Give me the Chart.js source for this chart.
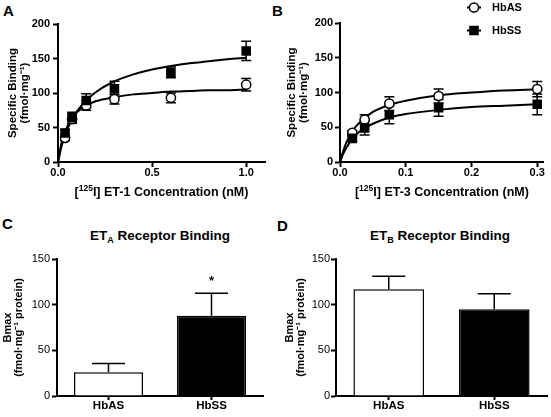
<!DOCTYPE html>
<html>
<head>
<meta charset="utf-8">
<script src="https://cdn.jsdelivr.net/npm/chart.js@4.4.0/dist/chart.umd.min.js"></script>
<style>
  body { margin: 0; background: #fff; width: 551px; height: 417px; position: relative; overflow: hidden;
         font-family: 'Liberation Sans', Arial, sans-serif; color: #000; }
  .panel { position: absolute; }
  .letter { position: absolute; font-weight: bold; font-size: 15px; line-height: 1; }
  .ctitle { position: absolute; font-weight: bold; font-size: 13.5px; line-height: 1; white-space: nowrap; transform: translateX(-50%); }
  .ctitle sub { font-size: 9px; vertical-align: -3px; line-height: 0; }
</style>
</head>
<body>
<div class="letter" style="left:3px; top:3px;">A</div>
<div class="letter" style="left:272px; top:3px;">B</div>
<div class="letter" style="left:2px; top:216px;">C</div>
<div class="letter" style="left:277px; top:218px;">D</div>
<div class="ctitle" style="left:160px; top:229px;">ET<sub>A</sub> Receptor Binding</div>
<div class="ctitle" style="left:440px; top:229px;">ET<sub>B</sub> Receptor Binding</div>

<canvas id="chartA" class="panel" width="275" height="205" style="left:0; top:0;"></canvas>
<canvas id="chartB" class="panel" width="276" height="205" style="left:275px; top:0;"></canvas>
<canvas id="chartC" class="panel" width="275" height="207" style="left:0; top:210px;"></canvas>
<canvas id="chartD" class="panel" width="276" height="207" style="left:275px; top:210px;"></canvas>

<script>
// --- Panel A: [125I] ET-1 saturation binding ---
const et1Conc = [0.0375, 0.075, 0.15, 0.3, 0.6, 1.0];
const et1HbAS = [35, 62, 82, 91, 93, 112];
const et1HbASErr = [4, 6, 7, 7, 7, 9];
const et1HbSS = [42, 64, 89, 106, 130, 161];
const et1HbSSErr = [5, 8, 10, 11, 8, 14];
// fitted one-site curves
const et1FitX = [0, 0.02, 0.05, 0.1, 0.15, 0.2, 0.3, 0.4, 0.5, 0.6, 0.7, 0.8, 0.9, 1.0];
const et1FitHbAS = [0, 29, 52, 72, 82, 88, 94, 98, 100, 102, 103, 104, 104, 105];
const et1FitHbSS = [0, 24, 48, 73, 89, 101, 117, 127, 134, 139, 143, 146, 149, 151];
const et1XTicks = [0, 0.5, 1.0];
const et1YTicks = [0, 50, 100, 150, 200];

// --- Panel B: [125I] ET-3 saturation binding ---
const et3Conc = [0.01875, 0.0375, 0.075, 0.15, 0.3];
const et3HbAS = [42, 61, 84, 95, 105];
const et3HbASErr = [3, 7, 10, 10, 11];
const et3HbSS = [34, 49, 68, 78, 83];
const et3HbSSErr = [3, 10, 13, 12, 15];
const et3FitX = [0, 0.005, 0.01, 0.02, 0.03, 0.05, 0.075, 0.1, 0.15, 0.2, 0.25, 0.3];
const et3FitHbAS = [0, 16, 29, 46, 57, 72, 82, 88, 96, 100, 103, 104.5];
const et3FitHbSS = [0, 12, 21, 35, 44, 55, 64, 69, 75, 79, 81, 83];
const et3XTicks = [0, 0.1, 0.2, 0.3];
const et3YTicks = [0, 50, 100, 150, 200];

const seriesNames = ['HbAS', 'HbSS'];

// --- Panels C/D: Bmax ---
const groups = ['HbAS', 'HbSS'];
const etaBmax = [26, 88];
const etaBmaxErr = [9.5, 24.5];
const etaMarks = ['', '*'];
const etbBmax = [117, 95];
const etbBmaxErr = [14, 17];
const bmaxTicks = [0, 50, 100, 150];

const FONT = "'Liberation Sans', Arial, sans-serif";
const bold = (size, lh) => ({ family: FONT, size: size, weight: 'bold', lineHeight: lh || 1.2 });
const plain = (size, lh) => ({ family: FONT, size: size, weight: 'normal', lineHeight: lh || 1.2 });

// error bars: both directions behind the symbols, upward only on top of the bars
const errorBars = {
    id: 'errorBars',
    beforeDatasetsDraw(chart) { if (chart.config.type !== 'bar') drawErrors(chart, false); },
    afterDatasetsDraw(chart) { if (chart.config.type === 'bar') drawErrors(chart, true); }
};

function drawErrors(chart, upOnly) {
    const ctx = chart.ctx;
    const yScale = chart.scales.y;
    chart.data.datasets.forEach((ds, di) => {
        if (!ds.errors) return;
        const meta = chart.getDatasetMeta(di);
        ctx.save();
        ctx.strokeStyle = '#000';
        ctx.lineWidth = 1.5;
        meta.data.forEach((el, i) => {
            const v = upOnly ? ds.data[i] : ds.data[i].y;
            const hi = yScale.getPixelForValue(v + ds.errors[i]);
            const lo = upOnly ? el.y : yScale.getPixelForValue(v - ds.errors[i]);
            const half = ds.capWidth / 2;
            ctx.beginPath();
            ctx.moveTo(el.x, lo);
            ctx.lineTo(el.x, hi);
            ctx.moveTo(el.x - half, hi);
            ctx.lineTo(el.x + half, hi);
            if (!upOnly) {
                ctx.moveTo(el.x - half, lo);
                ctx.lineTo(el.x + half, lo);
            }
            ctx.stroke();
            // significance mark above the error bar
            if (ds.marks && ds.marks[i]) {
                ctx.fillStyle = '#000';
                ctx.font = 'bold 13px ' + FONT;
                ctx.textAlign = 'center';
                ctx.textBaseline = 'alphabetic';
                ctx.fillText(ds.marks[i], el.x, hi - 8.5);
            }
        });
        ctx.restore();
    });
}

// legend with the line running through the symbol
const lineLegend = {
    id: 'lineLegend',
    afterDraw(chart, args, opts) {
        if (!opts.show) return;
        const ctx = chart.ctx;
        chart.data.datasets.filter(d => d.inLegend).forEach((ds, i) => {
            const y = opts.y + i * opts.rowGap;
            ctx.save();
            ctx.strokeStyle = '#000';
            ctx.lineWidth = 2;
            ctx.beginPath();
            ctx.moveTo(opts.x - 7, y);
            ctx.lineTo(opts.x + 7, y);
            ctx.stroke();
            ctx.fillStyle = ds.pointBackgroundColor;
            ctx.strokeStyle = ds.pointBorderColor;
            ctx.lineWidth = ds.pointBorderWidth;
            Chart.helpers.drawPoint(ctx, {
                pointStyle: ds.pointStyle, radius: ds.pointRadius,
                rotation: 0, borderWidth: ds.pointBorderWidth
            }, opts.x, y);
            ctx.fillStyle = '#000';
            ctx.font = 'bold 11px ' + FONT;
            ctx.textAlign = 'left';
            ctx.textBaseline = 'middle';
            ctx.fillText(ds.label, opts.textX, y);
            ctx.restore();
        });
    }
};

// x-axis title with a superscript part, centred under the plot area
const richTitle = {
    id: 'richTitle',
    afterDraw(chart, args, opts) {
        if (!opts.parts) return;
        const ctx = chart.ctx;
        const mainFont = 'bold ' + opts.size + 'px ' + FONT;
        const supFont = 'bold ' + opts.supSize + 'px ' + FONT;
        ctx.save();
        let total = 0;
        opts.parts.forEach(p => {
            ctx.font = p.sup ? supFont : mainFont;
            total += ctx.measureText(p.text).width;
        });
        const area = chart.chartArea;
        let x = (area.left + area.right) / 2 - total / 2;
        ctx.fillStyle = '#000';
        ctx.textAlign = 'left';
        ctx.textBaseline = 'alphabetic';
        opts.parts.forEach(p => {
            ctx.font = p.sup ? supFont : mainFont;
            ctx.fillText(p.text, x, p.sup ? opts.baseline - opts.raise : opts.baseline);
            x += ctx.measureText(p.text).width;
        });
        ctx.restore();
    }
};

function pointSet(label, xs, ys, errs, style, order) {
    const filled = style === 'rect';
    return {
        label: label,
        inLegend: true,
        data: xs.map((x, i) => ({ x: x, y: ys[i] })),
        errors: errs,
        capWidth: 10,
        showLine: false,
        pointStyle: style,
        pointRadius: filled ? 5.7 : 4.6,
        pointHoverRadius: filled ? 5.7 : 4.6,
        pointBackgroundColor: filled ? '#000' : '#fff',
        pointBorderColor: '#000',
        pointBorderWidth: 1.5,
        order: order
    };
}

function curveSet(xs, ys, order) {
    return {
        label: '',
        data: xs.map((x, i) => ({ x: x, y: ys[i] })),
        showLine: true,
        borderColor: '#000',
        borderWidth: 2,
        pointRadius: 0,
        cubicInterpolationMode: 'monotone',
        order: order
    };
}

function axisStyle() {
    return {
        grid: { drawOnChartArea: false, tickLength: 5, tickColor: '#000', tickWidth: 2 },
        border: { color: '#000', width: 2 }
    };
}

function bindingChart(id, cfg) {
    return new Chart(document.getElementById(id), {
        type: 'scatter',
        data: {
            datasets: [
                pointSet(seriesNames[0], cfg.xs, cfg.as, cfg.asErr, 'circle', 1),
                pointSet(seriesNames[1], cfg.xs, cfg.ss, cfg.ssErr, 'rect', 0),
                curveSet(cfg.fitX, cfg.fitAS, 2),
                curveSet(cfg.fitX, cfg.fitSS, 3)
            ]
        },
        options: {
            responsive: false,
            animation: false,
            devicePixelRatio: 1,
            layout: { padding: cfg.padding },
            plugins: {
                legend: { display: false },
                tooltip: { enabled: false },
                lineLegend: cfg.legend || { show: false },
                richTitle: { parts: cfg.xTitle, size: 12.5, supSize: 8.5, baseline: 196, raise: 5 }
            },
            scales: {
                x: Object.assign(axisStyle(), {
                    type: 'linear', min: 0, max: cfg.xMax,
                    afterFit: s => { s.height = 43; },
                    afterBuildTicks: s => { s.ticks = cfg.xTicks.map(v => ({ value: v })); },
                    ticks: { font: bold(11, 1), color: '#000', padding: 0, maxRotation: 0, autoSkip: false,
                             callback: v => v.toFixed(1) }
                }),
                y: Object.assign(axisStyle(), {
                    min: 0, max: 200,
                    afterFit: s => { s.width = cfg.yWidth; },
                    afterBuildTicks: s => { s.ticks = cfg.yTicks.map(v => ({ value: v })); },
                    ticks: { font: bold(11, 1), color: '#000', padding: cfg.yTickPad },
                    title: { display: true, text: ['Specific Binding', '(fmol·mg⁻¹)'], font: bold(11.5, 1.05),
                             color: '#000', padding: { top: cfg.yTitlePad, bottom: 0 } }
                })
            }
        },
        plugins: [errorBars, lineLegend, richTitle]
    });
}

function bmaxChart(id, cfg) {
    return new Chart(document.getElementById(id), {
        type: 'bar',
        data: {
            labels: groups,
            datasets: [{
                data: cfg.values,
                errors: cfg.errors,
                marks: cfg.marks,
                capWidth: 33,
                backgroundColor: ['#fff', '#000'],
                borderColor: '#000',
                borderWidth: 1.5,
                barPercentage: 0.67,
                categoryPercentage: 1.0
            }]
        },
        options: {
            responsive: false,
            animation: false,
            devicePixelRatio: 1,
            layout: { padding: cfg.padding },
            plugins: { legend: { display: false }, tooltip: { enabled: false } },
            scales: {
                x: {
                    afterFit: s => { s.height = 21; },
                    ticks: { font: bold(11.5, 1), color: '#000', padding: 0 },
                    grid: { drawOnChartArea: false, offset: false, tickLength: 4, tickColor: '#000', tickWidth: 2 },
                    border: { color: '#000', width: 2 }
                },
                y: Object.assign(axisStyle(), {
                    min: 0, max: 150,
                    afterFit: s => { s.width = cfg.yWidth; },
                    afterBuildTicks: s => { s.ticks = bmaxTicks.map(v => ({ value: v })); },
                    ticks: { font: plain(11, 1), color: '#000', padding: cfg.yTickPad },
                    title: { display: true, text: ['Bmax', '(fmol·mg⁻¹ protein)'], font: bold(11, 1.0),
                             color: '#000', padding: { top: cfg.yTitlePad, bottom: 0 } }
                })
            }
        },
        plugins: [errorBars]
    });
}

bindingChart('chartA', {
    xs: et1Conc, as: et1HbAS, asErr: et1HbASErr, ss: et1HbSS, ssErr: et1HbSSErr,
    fitX: et1FitX, fitAS: et1FitHbAS, fitSS: et1FitHbSS,
    xMax: 1.1, xTicks: et1XTicks, yTicks: et1YTicks,
    xTitle: [{ text: '[' }, { text: '125', sup: true }, { text: 'I] ET-1 Concentration (nM)' }],
    padding: { left: 0, top: 24, right: 10, bottom: 0 },
    yWidth: 58, yTickPad: 3, yTitlePad: 7
});

bindingChart('chartB', {
    xs: et3Conc, as: et3HbAS, asErr: et3HbASErr, ss: et3HbSS, ssErr: et3HbSSErr,
    fitX: et3FitX, fitAS: et3FitHbAS, fitSS: et3FitHbSS,
    xMax: 0.31, xTicks: et3XTicks, yTicks: et3YTicks,
    xTitle: [{ text: '[' }, { text: '125', sup: true }, { text: 'I] ET-3 Concentration (nM)' }],
    padding: { left: 0, top: 23, right: 1, bottom: 0 },
    yWidth: 65, yTickPad: 2, yTitlePad: 11,
    legend: { show: true, x: 199, textX: 217, y: 7.5, rowGap: 23 }
});

bmaxChart('chartC', {
    values: etaBmax, errors: etaBmaxErr, marks: etaMarks,
    padding: { left: 0, top: 49, right: 12, bottom: 0 },
    yWidth: 57, yTickPad: 2, yTitlePad: 2
});

bmaxChart('chartD', {
    values: etbBmax, errors: etbBmaxErr, marks: null,
    padding: { left: 0, top: 49, right: 4, bottom: 0 },
    yWidth: 61, yTickPad: 1, yTitlePad: 9
});
</script>
</body>
</html>
